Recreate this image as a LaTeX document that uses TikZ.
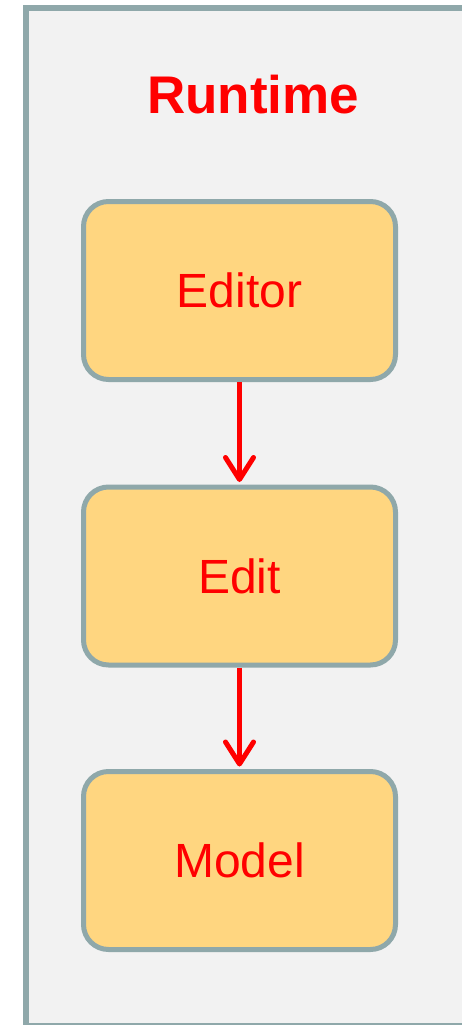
\documentclass[tikz,border=0pt]{standalone}
\usepackage{fontspec}
\setmainfont{Liberation Sans}
\usetikzlibrary{arrows.meta}
\definecolor{framegray}{RGB}{143,168,170}
\definecolor{bgfill}{RGB}{242,242,242}
\definecolor{boxfill}{RGB}{255,214,128}
\definecolor{txtred}{RGB}{255,0,0}
\tikzset{
  comp/.style={draw=framegray, line width=5pt, fill=boxfill, rounded corners=25pt,
    minimum width=312pt, minimum height=178pt, inner sep=0pt,
    text=txtred, font=\fontsize{48}{52}\selectfont},
  flow/.style={draw=txtred, line width=5pt,
    -{Straight Barb[length=22pt,width=28pt,line width=5pt,line cap=round,round]}, shorten >=2.5pt}
}
\begin{document}
\begin{tikzpicture}[x=1pt,y=-1pt]
\useasboundingbox (0,0) rectangle (462,1025);
\node[draw=framegray, line width=6pt, fill=bgfill, minimum width=470pt, minimum height=1017pt, inner sep=0pt, anchor=north west] (frame) at (22.5,5.5) {};
\node[text=txtred, font=\bfseries\fontsize{53}{56}\selectfont] (title) at (253,95) {Runtime};
\node[comp] (editor) at (239.5,290.5) {Editor};
\node[comp] (edit) at (239.5,576) {Edit};
\node[comp] (model) at (239.5,860.5) {Model};
\draw[flow] (editor.south) -- (edit.north);
\draw[flow] (edit.south) -- (model.north);
\end{tikzpicture}
\end{document}
